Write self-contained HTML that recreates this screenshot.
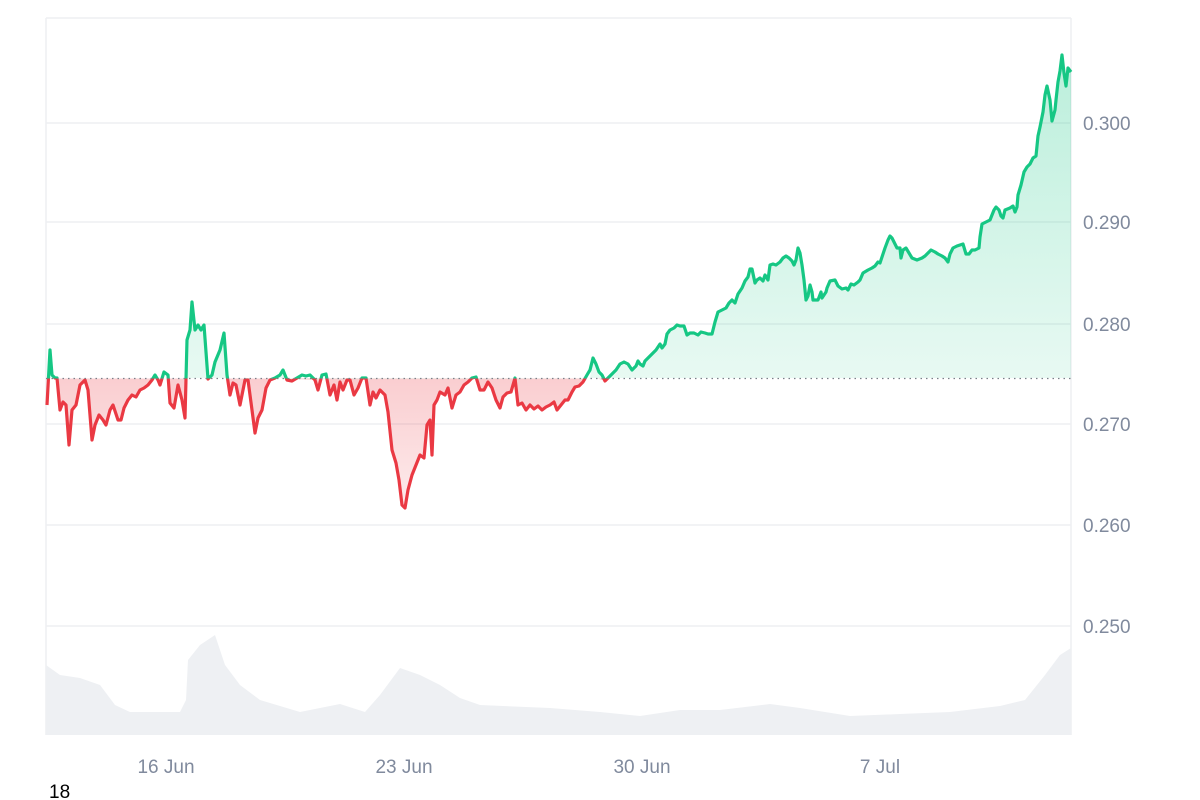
<!DOCTYPE html>
<html><head><meta charset="utf-8"><style>
html,body{margin:0;padding:0;background:#fff;}
svg{display:block;font-family:"Liberation Sans",sans-serif;}
</style></head><body>
<svg width="1200" height="800" viewBox="0 0 1200 800">
<defs>
<linearGradient id="gg" x1="0" y1="40" x2="0" y2="378" gradientUnits="userSpaceOnUse">
<stop offset="0" stop-color="#16c784" stop-opacity="0.3"/><stop offset="1" stop-color="#16c784" stop-opacity="0.1"/></linearGradient>
<linearGradient id="rg" x1="0" y1="378" x2="0" y2="510" gradientUnits="userSpaceOnUse">
<stop offset="0" stop-color="#ea3943" stop-opacity="0.25"/><stop offset="1" stop-color="#ea3943" stop-opacity="0.1"/></linearGradient>
<clipPath id="up"><rect x="40" y="0" width="1040" height="378.5"/></clipPath>
<clipPath id="dn"><rect x="40" y="378.5" width="1040" height="400"/></clipPath>
<path id="ln" fill="none" d="M47,405 L50,350 L52,375 L55,378 L57,378 L60,410 L63,402 L66,405 L69,445 L72,410 L76,405 L80,385 L85,380 L88,390 L92,440 L95,425 L99,415 L103,420 L106,425 L110,410 L113,405 L118,420 L121,420 L124,408 L128,400 L132,395 L136,397 L140,390 L144,388 L148,385 L152,380 L155,375 L158,380 L160,385 L164,372 L168,375 L170,403 L174,408 L178,385 L182,400 L185,418 L187,340 L190,330 L192,302 L195,330 L198,325 L201,330 L204,325 L208,379 L212,375 L215,362 L220,350 L224,333 L227,375 L230,395 L233,383 L236,385 L240,405 L245,380 L248,380 L252,410 L255,433 L258,418 L262,410 L266,388 L270,380 L275,378 L280,375 L283,370 L287,380 L292,381 L297,378 L302,375 L306,376 L310,375 L315,380 L318,390 L322,375 L326,374 L330,395 L334,385 L337,400 L340,382 L343,390 L347,380 L350,380 L354,395 L358,388 L362,378 L366,378 L370,405 L373,392 L376,398 L380,390 L385,395 L388,412 L392,450 L396,463 L399,480 L402,505 L405,508 L408,490 L412,475 L416,465 L420,455 L424,458 L427,425 L430,420 L432,455 L434,405 L437,400 L440,392 L445,395 L448,388 L452,408 L456,395 L460,392 L464,385 L468,382 L472,378 L476,377 L480,390 L484,390 L488,382 L492,388 L496,400 L500,408 L503,397 L507,393 L511,392 L515,378 L518,405 L522,403 L526,410 L530,405 L534,409 L538,406 L542,410 L546,407 L550,405 L554,402 L557,410 L561,405 L565,400 L568,400 L572,392 L575,387 L579,386 L583,382 L587,375 L590,370 L593,358 L596,364 L599,372 L602,375 L605,381 L608,378 L612,374 L616,370 L620,364 L624,362 L628,364 L632,370 L636,366 L638,361 L640,364 L643,366 L645,361 L648,358 L652,354 L656,350 L660,344 L662,348 L665,344 L667,334 L670,330 L674,328 L677,325 L680,326 L684,326 L687,335 L690,333 L694,333 L698,335 L701,332 L705,333 L708,334 L712,334 L715,322 L718,312 L722,310 L726,308 L729,303 L732,300 L735,303 L738,294 L742,288 L745,281 L748,277 L750,269 L752,269 L755,283 L757,280 L760,278 L763,281 L765,275 L768,280 L770,265 L773,264 L776,265 L780,262 L783,258 L786,256 L789,258 L792,261 L794,265 L796,260 L798,248 L800,253 L802,265 L804,280 L806,300 L808,296 L810,285 L812,292 L813,300 L815,300 L818,300 L821,292 L822,298 L826,292 L827,288 L830,281 L835,280 L838,286 L842,289 L846,288 L848,290 L851,284 L854,285 L858,282 L860,280 L863,273 L868,270 L872,268 L875,266 L878,262 L880,263 L885,248 L888,240 L890,236 L892,238 L895,244 L897,248 L900,248 L901,258 L903,250 L906,248 L909,253 L912,258 L917,260 L922,258 L925,256 L928,253 L931,250 L935,252 L938,254 L942,256 L945,258 L948,262 L950,254 L953,248 L957,246 L960,245 L963,244 L966,254 L969,254 L972,250 L975,250 L979,248 L980,237 L982,224 L986,222 L990,220 L994,210 L996,207 L999,210 L1001,216 L1003,218 L1005,210 L1010,208 L1013,206 L1015,212 L1017,207 L1018,195 L1021,185 L1024,172 L1027,167 L1030,164 L1033,158 L1036,156 L1038,136 L1040,127 L1043,112 L1045,95 L1047,86 L1050,100 L1052,121 L1055,110 L1056,100 L1058,82 L1060,71 L1062,55 L1064,73 L1066,86 L1068,68 L1071,72"/>
</defs>
<g stroke="#eeeff2" stroke-width="1.5">
<line x1="46" y1="18" x2="1071" y2="18"/>
<line x1="46" y1="18" x2="46" y2="735"/>
<line x1="1071" y1="18" x2="1071" y2="735"/>
<line x1="46" y1="123" x2="1071" y2="123"/>
<line x1="46" y1="222" x2="1071" y2="222"/>
<line x1="46" y1="324" x2="1071" y2="324"/>
<line x1="46" y1="424" x2="1071" y2="424"/>
<line x1="46" y1="525" x2="1071" y2="525"/>
<line x1="46" y1="626" x2="1071" y2="626"/>
</g>
<path fill="#eef0f3" d="M46,735 L46,665 L60,675 L80,678 L100,685 L115,705 L130,712 L180,712 L186,700 L188,660 L200,645 L215,635 L225,665 L240,685 L260,700 L300,712 L340,704 L365,712 L380,695 L400,668 L420,675 L440,685 L460,698 L480,705 L550,708 L600,712 L640,716 L680,710 L720,710 L770,704 L800,708 L850,716 L900,714 L950,712 L1000,706 L1025,700 L1045,675 L1060,655 L1071,648 L1071,735 Z"/>
<g clip-path="url(#up)">
<path fill="url(#gg)" d="M47,378 L47,405 L50,350 L52,375 L55,378 L185,378 L187,340 L190,330 L192,302 L195,330 L198,325 L201,330 L204,325 L208,379 L212,375 L215,362 L220,350 L224,333 L227,375 L230,378 L270,378 L275,378 L280,375 L283,370 L287,380 L590,378 L593,358 L596,364 L599,372 L602,375 L605,381 L612,374 L616,370 L620,364 L624,362 L628,364 L632,370 L636,366 L638,361 L640,364 L643,366 L645,361 L648,358 L652,354 L656,350 L660,344 L662,348 L665,344 L667,334 L670,330 L674,328 L677,325 L680,326 L684,326 L687,335 L690,333 L694,333 L698,335 L701,332 L705,333 L708,334 L712,334 L715,322 L718,312 L722,310 L726,308 L729,303 L732,300 L735,303 L738,294 L742,288 L745,281 L748,277 L750,269 L752,269 L755,283 L757,280 L760,278 L763,281 L765,275 L768,280 L770,265 L773,264 L776,265 L780,262 L783,258 L786,256 L789,258 L792,261 L794,265 L796,260 L798,248 L800,253 L802,265 L804,280 L806,300 L808,296 L810,285 L812,292 L813,300 L818,300 L821,292 L822,298 L826,292 L827,288 L830,281 L835,280 L838,286 L842,289 L846,288 L848,290 L851,284 L854,285 L858,282 L860,280 L863,273 L868,270 L872,268 L875,266 L878,262 L880,263 L885,248 L888,240 L890,236 L892,238 L895,244 L897,248 L900,248 L901,258 L903,250 L906,248 L909,253 L912,258 L917,260 L922,258 L925,256 L928,253 L931,250 L935,252 L938,254 L942,256 L945,258 L948,262 L950,254 L953,248 L957,246 L960,245 L963,244 L966,254 L969,254 L972,250 L975,250 L979,248 L980,237 L982,224 L986,222 L990,220 L994,210 L996,207 L999,210 L1001,216 L1003,218 L1005,210 L1010,208 L1013,206 L1015,212 L1017,207 L1018,195 L1021,185 L1024,172 L1027,167 L1030,164 L1033,158 L1036,156 L1038,136 L1040,127 L1043,112 L1045,95 L1047,86 L1050,100 L1052,121 L1055,110 L1056,100 L1058,82 L1060,71 L1062,55 L1064,73 L1066,86 L1068,68 L1071,72 L1071,378 Z"/>
<use href="#ln" fill="none" stroke="#16c784" stroke-width="3.2" stroke-linejoin="round"/>
</g>
<g clip-path="url(#dn)">
<path fill="url(#rg)" d="M47,378 L47,405 L50,350 L52,375 L55,378 L57,378 L60,410 L63,402 L66,405 L69,445 L72,410 L76,405 L80,385 L85,380 L88,390 L92,440 L95,425 L99,415 L103,420 L106,425 L110,410 L113,405 L118,420 L121,420 L124,408 L128,400 L132,395 L136,397 L140,390 L144,388 L148,385 L152,380 L155,375 L158,380 L160,385 L164,372 L168,375 L170,403 L174,408 L178,385 L182,400 L185,418 L187,378 L225,378 L227,375 L230,395 L233,383 L236,385 L240,405 L245,380 L248,380 L252,410 L255,433 L258,418 L262,410 L266,388 L270,380 L275,378 L315,380 L318,390 L322,375 L326,374 L330,395 L334,385 L337,400 L340,382 L343,390 L347,380 L350,380 L354,395 L358,388 L362,378 L366,378 L370,405 L373,392 L376,398 L380,390 L385,395 L388,412 L392,450 L396,463 L399,480 L402,505 L405,508 L408,490 L412,475 L416,465 L420,455 L424,458 L427,425 L430,420 L432,455 L434,405 L437,400 L440,392 L445,395 L448,388 L452,408 L456,395 L460,392 L464,385 L468,382 L472,378 L476,377 L480,390 L484,390 L488,382 L492,388 L496,400 L500,408 L503,397 L507,393 L511,392 L515,378 L518,405 L522,403 L526,410 L530,405 L534,409 L538,406 L542,410 L546,407 L550,405 L554,402 L557,410 L561,405 L565,400 L568,400 L572,392 L575,387 L579,386 L583,382 L587,375 L605,381 L608,378 L612,378 Z"/>
<use href="#ln" fill="none" stroke="#ea3943" stroke-width="3.2" stroke-linejoin="round"/>
</g>
<line x1="46" y1="378.5" x2="1071" y2="378.5" stroke="#7a7f88" stroke-width="1.3" stroke-dasharray="1.5 4"/>
<g fill="#808a9d" font-size="19">
<text x="1083" y="130">0.300</text>
<text x="1083" y="229">0.290</text>
<text x="1083" y="331">0.280</text>
<text x="1083" y="431">0.270</text>
<text x="1083" y="532">0.260</text>
<text x="1083" y="633">0.250</text>
<text x="166" y="773" text-anchor="middle">16 Jun</text>
<text x="404" y="773" text-anchor="middle">23 Jun</text>
<text x="642" y="773" text-anchor="middle">30 Jun</text>
<text x="880" y="773" text-anchor="middle">7 Jul</text>
</g>
<text x="49" y="798" font-size="19" fill="#000">18</text>
</svg>
</body></html>
